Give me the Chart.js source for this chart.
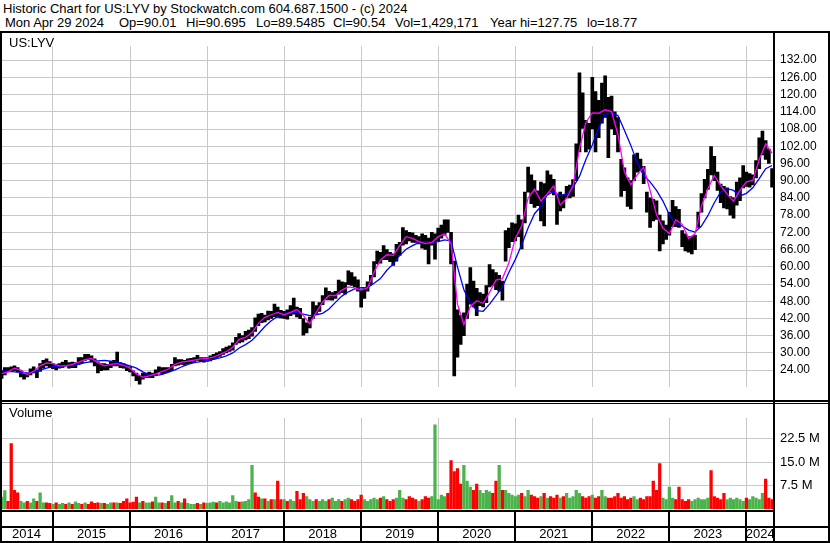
<!DOCTYPE html>
<html><head><meta charset="utf-8">
<script src="https://cdn.jsdelivr.net/npm/chart.js@4.4.1/dist/chart.umd.min.js"></script>
<style>
html,body{margin:0;padding:0;background:#fff;}
#wrap{position:relative;width:830px;height:543px;overflow:hidden;font-family:"Liberation Sans",Arial,sans-serif;background:#fff;}
.hdr{position:absolute;font-size:13px;line-height:15px;color:#000;white-space:pre;}
#c1box{position:absolute;left:0;top:33px;width:830px;height:367px;}
#c2box{position:absolute;left:0;top:404px;width:830px;height:139px;}
.lbl{position:absolute;font-size:13px;line-height:15px;color:#000;}
.ln{position:absolute;background:#000;}
</style></head><body>
<div id="wrap">
 <div class="hdr" style="left:3px;top:1px">Historic Chart for US:LYV by Stockwatch.com 604.687.1500 - (c) 2024</div>
 <div class="hdr" style="left:5px;top:15px">Mon Apr 29 2024</div>
 <div class="hdr" style="left:119px;top:15px">Op=90.01</div>
 <div class="hdr" style="left:186px;top:15px">Hi=90.695</div>
 <div class="hdr" style="left:256px;top:15px">Lo=89.5485</div>
 <div class="hdr" style="left:333px;top:15px">Cl=90.54</div>
 <div class="hdr" style="left:395px;top:15px">Vol=1,429,171</div>
 <div class="hdr" style="left:490px;top:15px">Year hi=127.75</div>
 <div class="hdr" style="left:587px;top:15px">lo=18.77</div>
 <div id="c1box"><canvas id="c1"></canvas></div>
 <div id="c2box"><canvas id="c2"></canvas></div>
 <div class="lbl" style="left:9px;top:35px">US:LYV</div>
 <div class="lbl" style="left:9px;top:405px">Volume</div>
</div>
<script>
// half-month periods starting late April 2014; index 0..240
const years = ['2014','2015','2016','2017','2018','2019','2020','2021','2022','2023','2024'];
const yearStartIdx = [16,40,64,88,112,136,160,184,208,232];   // index where each new year begins
const priceTicks = [24,30,36,42,48,54,60,66,72,78,84,90,96,102,108,114,120,126,132];
const volTicks = [7.5,15,22.5];

const hi = [23.8,24.9,24.9,25.2,25.5,24.9,23.8,22.7,23.0,24.5,
25.2,24.1,26.3,27.4,27.9,27.0,26.3,26.0,26.3,26.8,
27.4,26.6,26.8,26.6,28.4,28.4,29.5,29.5,29.0,27.9,
26.8,26.3,26.3,26.0,26.8,27.4,30.3,26.6,26.3,25.7,
25.2,23.8,23.0,22.0,23.0,23.0,23.3,23.0,24.1,25.2,
24.9,24.9,24.9,26.0,28.4,27.7,27.7,27.4,27.9,28.1,
28.4,29.2,28.4,28.4,28.4,29.0,29.5,30.0,30.5,31.5,
32.0,32.5,33.5,35.4,36.7,36.0,37.5,38.0,38.8,42.2,
43.5,43.8,43.2,44.6,44.5,47.0,46.0,44.8,44.5,45.0,
46.5,49.1,46.0,45.5,42.0,40.5,42.5,47.8,46.5,47.5,
50.0,52.7,51.5,51.0,51.5,55.4,54.8,54.5,58.6,58.0,
56.5,55.5,52.0,52.5,54.8,57.0,61.8,65.5,65.0,67.4,
66.0,65.0,64.5,67.8,68.5,73.7,72.6,72.0,71.8,71.0,
70.5,71.5,71.0,70.0,72.0,71.5,73.5,74.5,76.4,76.4,
72.0,62.0,45.0,43.0,44.0,54.0,59.7,55.0,52.5,51.0,
50.5,53.5,60.8,59.0,58.0,57.0,55.0,72.6,73.5,75.3,
75.0,78.0,76.4,86.0,94.7,92.0,90.0,86.5,89.5,89.0,
93.4,92.0,90.5,85.0,86.0,85.0,88.0,88.5,90.4,102.8,
127.6,120.6,111.0,110.0,126.0,121.0,118.0,124.0,126.5,119.0,
119.5,114.0,112.0,97.4,94.5,91.0,90.0,99.0,99.6,97.5,
95.0,86.0,84.0,83.5,83.0,78.0,76.0,74.5,79.0,83.2,
81.0,80.0,72.6,71.5,70.5,70.5,71.0,79.1,85.5,90.5,
94.0,101.9,98.5,93.0,88.8,88.0,87.5,84.5,84.0,89.5,
91.0,95.3,93.0,92.5,92.0,97.0,104.9,107.3,104.0,101.0,
94.2];
const lo = [21.1,22.3,23.4,23.6,23.8,23.4,21.6,20.9,21.6,22.3,
23.0,21.4,23.6,24.7,25.5,24.9,24.5,24.1,24.7,24.9,
25.5,24.7,24.9,24.9,26.0,26.6,27.4,27.7,26.8,25.5,
23.0,23.8,24.1,24.1,24.9,25.5,25.5,24.9,24.7,23.8,
23.4,22.0,20.3,19.1,20.9,21.4,21.4,21.4,22.3,23.0,
22.7,23.0,23.4,23.8,25.5,25.7,26.0,25.7,26.3,26.6,
26.8,27.4,27.0,26.8,27.0,27.2,27.8,28.3,28.8,29.5,
30.0,30.5,31.0,33.0,33.5,33.8,34.5,35.0,35.8,37.5,
39.5,40.5,40.8,41.5,42.0,42.5,42.4,42.2,42.0,41.8,
43.0,43.5,42.5,41.9,36.2,37.0,38.7,42.0,43.5,44.5,
46.8,48.5,48.5,48.4,49.0,50.5,51.0,50.5,53.8,53.5,
53.0,51.5,45.9,49.0,51.5,53.8,56.5,61.0,61.3,62.5,
62.5,61.8,60.5,62.0,64.0,67.5,68.0,69.0,68.5,68.5,
68.0,66.5,66.1,61.0,67.5,62.7,69.0,70.0,71.0,72.0,
61.0,22.0,28.5,33.0,36.0,42.0,47.0,46.0,43.0,46.5,
46.0,47.5,53.0,53.5,52.0,51.5,48.4,62.0,66.7,68.8,
69.0,70.5,66.2,75.3,86.0,82.0,80.7,81.3,76.0,74.2,
85.0,86.0,85.0,74.8,79.5,80.5,84.0,84.0,84.5,90.0,
100.0,108.2,100.0,101.0,108.0,100.0,105.0,110.0,112.0,98.0,
108.0,106.0,100.0,84.5,86.5,81.0,80.2,90.0,93.0,93.5,
89.0,79.0,73.7,76.0,76.5,65.5,68.0,69.5,71.0,74.0,
74.0,73.7,67.0,65.5,65.1,64.5,66.0,73.7,79.0,84.0,
87.0,92.0,90.0,86.6,82.3,80.5,80.2,78.0,76.9,81.5,
83.0,87.5,88.0,87.7,88.5,91.0,94.2,99.0,97.4,96.0,
87.7];
// moving averages, one value per month (every 2nd index)
const maShort = [22.8,23.4,24.7,24.0,22.5,23.6,25.5,26.5,26.3,25.5,
25.5,26.0,26.8,27.7,28.1,26.6,25.5,26.0,26.3,25.7,
24.7,22.7,21.6,22.0,22.7,23.6,24.4,26.0,26.8,27.1,
27.5,27.9,28.1,28.5,29.5,30.5,32.0,34.7,35.4,37.1,
40.3,42.4,43.3,44.1,43.3,44.1,45.1,43.0,40.1,44.1,
47.8,50.0,50.0,51.9,53.0,52.7,51.9,52.7,58.1,62.4,
64.2,64.0,67.4,70.5,69.9,68.8,68.1,68.5,70.5,71.5,
68.0,47.0,39.8,46.2,48.2,47.3,51.1,55.4,55.9,61.3,
69.9,74.2,83.9,87.0,82.9,85.5,88.2,81.5,83.9,88.2,
101.2,110.3,113.6,113.5,114.7,114.1,106.0,93.1,88.6,92.0,
94.7,86.6,78.2,73.5,71.5,76.4,74.8,69.9,71.5,81.2,
87.2,91.8,88.3,85.3,82.9,86.6,89.6,90.1,97.4,102.8,
99.6];
const maLong = [23.8,23.6,23.4,23.2,23.0,23.3,24.0,24.7,25.2,25.4,
25.5,25.6,26.0,26.6,27.0,27.2,27.4,27.1,26.8,26.2,
25.5,24.7,23.4,22.3,22.1,22.5,23.3,24.1,25.1,26.0,
26.6,27.0,27.4,27.8,28.3,29.0,30.0,31.7,32.9,34.4,
36.7,39.2,41.2,42.7,43.7,44.3,44.1,43.5,43.0,43.3,
43.8,45.3,47.6,49.8,51.3,52.3,52.7,52.7,54.3,55.9,
58.8,61.0,64.0,66.1,67.4,68.5,68.8,68.5,68.8,69.4,
69.0,60.0,52.0,47.5,44.7,44.5,47.0,50.0,53.0,58.0,
62.5,67.7,73.5,78.5,81.0,85.2,86.1,84.8,85.5,87.7,
91.5,97.4,102.4,108.5,113.0,113.6,112.7,107.6,102.3,96.3,
91.8,89.6,86.6,82.9,78.2,75.0,74.2,72.8,72.1,74.2,
77.8,82.3,86.1,87.2,86.6,84.7,85.6,87.5,90.7,94.2,
95.3];
// volume in millions of shares per half-month bar, and direction (1 = up / green, 0 = down / red)
const vol = [3.8,5.9,2.5,21.0,6.0,5.2,2.5,2.0,2.5,2.0,
3.3,2.5,5.2,2.0,2.0,1.8,1.5,2.0,1.5,1.8,
1.5,2.0,1.5,2.3,1.8,1.5,2.0,1.5,2.3,1.8,
2.0,1.8,1.8,1.5,2.0,2.0,2.0,1.8,2.5,3.3,
2.0,2.2,3.8,2.0,2.5,2.0,2.0,2.3,3.8,2.0,
2.0,1.8,2.5,4.3,2.0,2.5,2.0,3.3,1.8,1.5,
1.5,1.8,1.5,2.0,1.8,2.0,2.2,2.0,2.5,2.0,
2.3,2.0,4.3,2.5,2.2,2.3,2.5,3.0,14.0,5.2,
3.8,3.3,3.3,2.5,3.0,3.0,9.0,3.0,3.0,2.5,
3.0,2.5,5.7,3.0,5.0,4.0,3.0,2.5,3.0,2.5,
3.0,2.5,3.0,3.5,2.5,3.0,2.5,3.0,3.5,3.0,
2.5,3.0,4.5,3.0,2.5,3.0,3.5,3.0,3.5,4.0,
3.0,2.5,3.0,3.5,6.0,3.5,3.0,4.0,3.5,3.0,
2.5,3.0,4.0,3.5,4.0,27.0,3.0,4.5,4.0,5.0,
15.5,12.0,13.0,8.0,14.0,9.0,7.0,6.0,8.0,6.0,
5.0,6.0,5.5,5.0,9.0,14.0,6.0,6.0,5.0,4.5,
4.0,4.5,5.0,4.0,6.0,4.5,4.0,3.5,4.0,5.0,
3.5,4.0,3.5,4.5,3.5,4.0,5.0,3.5,4.0,6.0,
5.0,4.0,3.5,4.0,4.5,3.5,4.0,6.0,4.0,3.5,
3.5,4.0,5.0,3.5,4.0,3.0,3.5,4.0,3.0,3.5,
3.0,4.0,4.0,9.0,6.0,14.6,3.5,3.0,7.0,3.5,
3.0,7.0,3.0,2.5,3.0,2.5,3.0,3.5,3.0,3.0,
3.5,12.3,4.0,3.5,3.0,5.0,3.0,3.5,3.0,3.5,
3.0,2.5,3.5,3.0,4.0,3.5,3.0,5.0,9.6,3.5,
3.0];
const volUp = [1,1,0,0,0,0,1,1,0,1, 1,0,1,1,0,0,1,0,1,1, 0,1,0,1,1,0,1,0,0,0,
0,1,0,1,1,0,1,0,0,0, 0,0,0,1,0,1,1,0,1,1, 0,1,0,1,1,0,1,0,1,1,
1,0,1,0,1,1,1,0,1,1, 1,1,1,1,0,1,1,1,1,0, 0,1,0,1,0,1,0,0,1,0,
1,1,0,0,0,1,1,1,0,1, 1,1,0,1,1,1,0,1,1,0, 0,0,0,1,1,1,1,1,0,1,
0,0,0,1,1,1,0,0,0,0, 1,0,0,0,1,1,1,1,1,0, 0,0,0,0,1,1,1,0,0,1,
1,1,1,0,0,1,0,1,1,1, 1,1,0,1,1,0,0,0,1,0, 1,0,0,0,1,0,1,1,1,1,
1,0,0,0,1,0,0,1,1,0, 0,0,0,0,0,0,0,1,1,0, 0,0,0,0,0,0,1,1,1,1,
0,0,0,0,0,1,1,1,1,1, 1,0,0,0,0,0,1,1,1,1, 1,1,0,1,1,1,1,1,0,0,
0];

const X_MIN = -0.5, X_MAX = 240.6;
const yearMid = years.map((y,k)=>{
  const a = k===0 ? X_MIN : yearStartIdx[k-1];
  const b = k===years.length-1 ? X_MAX : yearStartIdx[k];
  return (a+b)/2;
});

Chart.defaults.font.family = "'Liberation Sans', Arial, sans-serif";
Chart.defaults.color = '#000';
const GRID = '#c8c8c8';
const noPad = s => { s.paddingLeft = 0; s.paddingRight = 0; };

const priceBars = hi.map((h,i)=>({x:i, y:[lo[i], h]}));
const shortPts = maShort.map((v,k)=>({x:2*k, y:v}));
const longPts = maLong.map((v,k)=>({x:2*k, y:v}));

const c1 = new Chart(document.getElementById('c1'), {
  type:'bar',
  data:{datasets:[
    {type:'line', data:shortPts, borderColor:'#ff00ff', borderWidth:1.3, pointRadius:0, tension:0, order:0},
    {type:'line', data:longPts, borderColor:'#0000ff', borderWidth:1.3, pointRadius:0, tension:0, order:1},
    {type:'bar', data:priceBars, backgroundColor:'#000', barThickness:3, grouped:false, order:2}
  ]},
  options:{
    responsive:true, maintainAspectRatio:false, animation:false, devicePixelRatio:1, events:[],
    layout:{padding:0},
    plugins:{legend:{display:false}, tooltip:{enabled:false}},
    scales:{
      x:{type:'linear', min:X_MIN, max:X_MAX, offset:false,
         afterBuildTicks:s=>{s.ticks = yearStartIdx.map(v=>({value:v}));},
         afterFit:s=>{s.height=0; noPad(s);},
         grid:{color:GRID, drawTicks:false, lineWidth:1, offset:false}, border:{display:false}, ticks:{display:false}},
      y:{position:'right', min:18.2, max:136.85,
         afterBuildTicks:s=>{s.ticks = priceTicks.map(v=>({value:v}));},
         afterFit:s=>{s.width=56;},
         grid:{color:GRID, drawTicks:false, lineWidth:1}, border:{display:false},
         ticks:{padding:6, font:{size:12}, color:'#000', callback:v=>Number(v).toFixed(2)}}
    }
  }
});

const volBars = vol.map((v,i)=>({x:i, y:v}));
const c2 = new Chart(document.getElementById('c2'), {
  type:'bar',
  data:{datasets:[
    {data:volBars, backgroundColor:volUp.map(u=>u?'#4cb34c':'#ff0000'), barThickness:2.6, grouped:false, xAxisID:'x'}
  ]},
  options:{
    responsive:true, maintainAspectRatio:false, animation:false, devicePixelRatio:1, events:[],
    layout:{padding:0},
    plugins:{legend:{display:false}, tooltip:{enabled:false}},
    scales:{
      x:{type:'linear', position:'bottom', min:X_MIN, max:X_MAX, offset:false,
         afterBuildTicks:s=>{s.ticks = yearMid.map(v=>({value:v}));},
         afterFit:s=>{s.height=34; noPad(s);},
         grid:{display:false, drawTicks:false, offset:false}, border:{display:false},
         ticks:{padding:18, autoSkip:false, maxRotation:0, minRotation:0, font:{size:13}, color:'#000',
                callback:(v,i)=>years[i]}},
      xg:{type:'linear', position:'bottom', min:X_MIN, max:X_MAX, offset:false,
         afterBuildTicks:s=>{s.ticks = yearStartIdx.map(v=>({value:v}));},
         afterFit:s=>{s.height=0; noPad(s);},
         grid:{color:GRID, drawTicks:false, lineWidth:1, offset:false}, border:{display:false}, ticks:{display:false}},
      y:{position:'right', min:0, max:29.27,
         afterBuildTicks:s=>{s.ticks = volTicks.map(v=>({value:v}));},
         afterFit:s=>{s.width=56;},
         grid:{color:GRID, drawTicks:false, lineWidth:1}, border:{display:false},
         ticks:{padding:6, font:{size:13}, color:'#000', callback:v=>Number(v).toFixed(1)+' M'}}
    }
  }
});

// frame lines
const wrap = document.getElementById('wrap');
function line(l,t,w,h){const d=document.createElement('div');d.className='ln';
  d.style.left=l+'px';d.style.top=t+'px';d.style.width=w+'px';d.style.height=h+'px';wrap.appendChild(d);}
line(0,31,830,2);      // header separator
line(0,31,2,512);      // left border
line(773,31,2,512);    // plot right border
line(828,31,2,512);    // outer right border
line(0,400,830,2);     // price / volume separator
line(0,403,830,1);
line(0,510,774,2);     // volume bottom
line(0,526,830,2);     // band middle
line(0,541,830,2);     // bottom
yearStartIdx.forEach(v=>{
  const px = Math.round(c2.scales.x.getPixelForValue(v));
  line(px-1,510,2,33);
});
</script>
</body></html>
